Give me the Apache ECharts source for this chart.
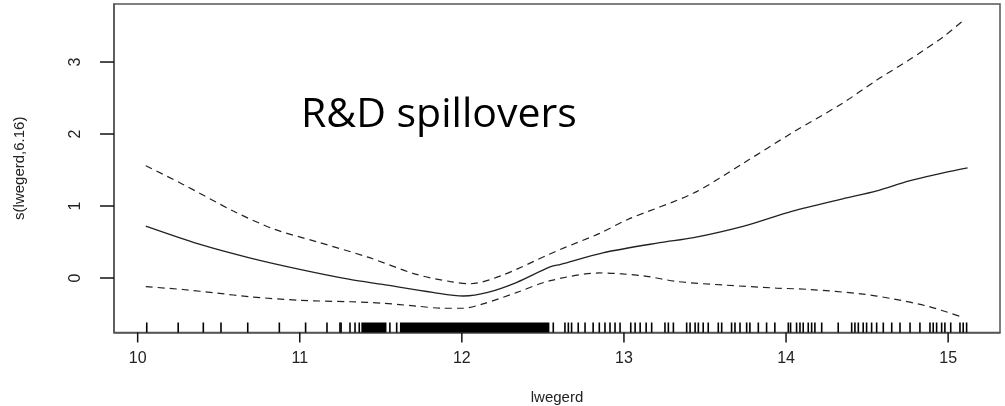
<!DOCTYPE html>
<html>
<head>
<meta charset="utf-8">
<script src="https://cdn.jsdelivr.net/npm/echarts@6/dist/echarts.min.js"></script>
<style>
  html, body { margin: 0; padding: 0; background: #fff; }
  #chart { width: 1005px; height: 406px; }
</style>
</head>
<body>
<div id="chart"></div>
<script>
// fitted smooth s(lwegerd, 6.16)
const fitLine = [
  [10.05, 0.72], [10.38, 0.47], [10.69, 0.28], [11.0, 0.12], [11.31, -0.02],
  [11.51, -0.09], [11.82, -0.2], [12.01, -0.25], [12.16, -0.2], [12.34, -0.06],
  [12.54, 0.15], [12.61, 0.19], [12.87, 0.35], [13.22, 0.49], [13.43, 0.56],
  [13.74, 0.72], [14.04, 0.93], [14.35, 1.1], [14.56, 1.21], [14.76, 1.35],
  [14.97, 1.46], [15.12, 1.53]
];
// upper confidence band
const upperBand = [
  [10.05, 1.56], [10.28, 1.3], [10.59, 0.93], [10.84, 0.68], [11.11, 0.5],
  [11.42, 0.29], [11.72, 0.05], [11.93, -0.05], [12.05, -0.08], [12.24, 0.03],
  [12.54, 0.33], [12.61, 0.4], [12.85, 0.62], [13.02, 0.81], [13.43, 1.18],
  [13.74, 1.6], [14.04, 2.02], [14.35, 2.43], [14.56, 2.75], [14.76, 3.03],
  [14.97, 3.35], [15.1, 3.59]
];
// lower confidence band
const lowerBand = [
  [10.05, -0.12], [10.28, -0.16], [10.49, -0.21], [10.69, -0.26], [11.0, -0.31],
  [11.31, -0.33], [11.51, -0.35], [11.72, -0.39], [11.88, -0.42], [12.01, -0.42],
  [12.13, -0.36], [12.34, -0.2], [12.54, -0.04], [12.85, 0.07], [13.12, 0.03],
  [13.33, -0.05], [13.63, -0.1], [13.94, -0.14], [14.15, -0.16], [14.46, -0.22],
  [14.66, -0.29], [14.87, -0.39], [15.07, -0.53]
];
// rug: single observations
const rugTicks = [
  10.056, 10.25, 10.405, 10.514, 10.679, 10.874, 11.036, 11.168, 11.248, 11.255,
  11.31, 11.341, 11.367, 11.556, 11.598,
  12.564, 12.636, 12.657, 12.677, 12.718, 12.76, 12.81, 12.848, 12.883, 12.914,
  12.945, 12.976, 13.042, 13.069, 13.1, 13.137, 13.171, 13.253, 13.274, 13.305,
  13.387, 13.408, 13.439, 13.459, 13.489, 13.52, 13.582, 13.603, 13.664, 13.685,
  13.716, 13.757, 13.777, 13.829, 13.88,
  13.931, 14.014, 14.028, 14.065, 14.086, 14.106, 14.137, 14.158, 14.178, 14.22,
  14.322, 14.405, 14.425, 14.446, 14.476, 14.497, 14.528, 14.559, 14.6, 14.652,
  14.703, 14.765, 14.826, 14.888, 14.908, 14.929, 14.96, 14.98, 15.016, 15.073,
  15.093, 15.114
];
// rug: ranges so dense they print solid black
const rugBlocks = [[11.38, 11.535], [11.618, 12.54]];

const xTicks = [10, 11, 12, 13, 14, 15];
const yTicks = [0, 1, 2, 3];

const xMin = 9.854, xMax = 15.32;
const yMin = -0.757, yMax = 3.806;

const chart = echarts.init(document.getElementById('chart'));

const lineCol = '#222';
const txtCol = '#222';

// rug drawn as short vertical rects sitting on the bottom of the box
const rugItem = (params, api) => {
  const lo = api.coord([api.value(0), yMin]);
  const hi = api.coord([api.value(1), yMin]);
  const w = Math.max(hi[0] - lo[0], 1.6);
  return {
    type: 'rect',
    shape: { x: lo[0] - (hi[0] === lo[0] ? 0.8 : 0), y: lo[1] - 10, width: w, height: 10 },
    style: { fill: '#000' }
  };
};

// outward axis ticks, R style (axisTick would not show here)
const tickItem = (params, api) => {
  const p = api.coord([api.value(0), api.value(1)]);
  const onX = api.value(2) === 1;
  return {
    type: 'line',
    shape: onX
      ? { x1: p[0], y1: p[1], x2: p[0], y2: p[1] + 10 }
      : { x1: p[0] - 14, y1: p[1], x2: p[0], y2: p[1] },
    style: { stroke: '#111', lineWidth: 1.5 }
  };
};

const option = {
  animation: false,
  title: {
    text: 'R&D spillovers',
    left: 296,
    top: 90,
    textStyle: { fontFamily: 'Open Sans', fontSize: 41, fontWeight: 'normal', color: '#000' }
  },
  grid: {
    left: 114, right: 5, top: 4, bottom: 73.5,
    outerBoundsMode: 'none',
    show: true, borderColor: '#555', borderWidth: 1.5
  },
  xAxis: {
    type: 'value',
    min: xMin, max: xMax,
    name: 'lwegerd',
    nameLocation: 'middle',
    nameGap: 58,
    nameTextStyle: { fontFamily: 'Liberation Sans', fontSize: 15, color: txtCol },
    axisLine: { show: true, onZero: false, lineStyle: { color: '#555', width: 1.5 } },
    splitLine: { show: false },
    axisTick: { show: false },
    axisLabel: { customValues: xTicks, margin: 18, fontFamily: 'Liberation Sans', fontSize: 16, color: txtCol }
  },
  yAxis: {
    type: 'value',
    min: yMin, max: yMax,
    name: 's(lwegerd,6.16)',
    nameLocation: 'middle',
    nameGap: 87,
    nameRotate: 90,
    nameTextStyle: { fontFamily: 'Liberation Sans', fontSize: 15, color: txtCol },
    axisLine: { show: true, onZero: false, lineStyle: { color: '#555', width: 1.5 } },
    splitLine: { show: false },
    axisTick: { show: false },
    axisLabel: { customValues: yTicks, rotate: 90, margin: 30, fontFamily: 'Liberation Sans', fontSize: 16, color: txtCol }
  },
  series: [
    {
      type: 'line', data: upperBand, showSymbol: false, smooth: 0.3,
      lineStyle: { color: lineCol, width: 1.2, type: [7, 5] }
    },
    {
      type: 'line', data: fitLine, showSymbol: false, smooth: 0.3,
      lineStyle: { color: lineCol, width: 1.3 }
    },
    {
      type: 'line', data: lowerBand, showSymbol: false, smooth: 0.3,
      lineStyle: { color: lineCol, width: 1.2, type: [7, 5] }
    },
    {
      type: 'custom', renderItem: rugItem,
      data: rugTicks.map(v => [v, v])
    },
    {
      type: 'custom', renderItem: rugItem,
      data: rugBlocks
    },
    {
      type: 'custom', renderItem: tickItem, clip: false, z: 20,
      data: xTicks.map(v => [v, yMin, 1]).concat(yTicks.map(v => [xMin, v, 0]))
    }
  ]
};

chart.setOption(option);
</script>
</body>
</html>
